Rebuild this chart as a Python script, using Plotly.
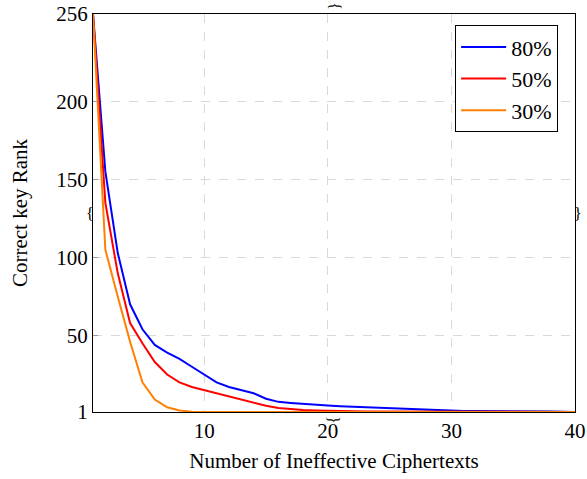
import plotly.graph_objects as go

x_vals = list(range(1, 41))
rank_80 = [256, 155, 103, 70, 54, 44, 39, 35, 30, 25, 20, 17, 15, 13, 9.5, 7.5, 6.8, 6.1, 5.6, 5.1,
           4.7, 4.4, 4.1, 3.8, 3.5, 3.2, 2.9, 2.6, 2.2, 1.8, 1.7, 1.7, 1.7, 1.6, 1.6, 1.5, 1.4, 1.3, 1.1, 1]
rank_50 = [256, 135, 90, 58, 45, 33, 25, 20, 17, 15, 13, 11, 9, 7, 5, 3.5, 2.7, 2.3, 2.0, 1.7,
           1.6, 1.5, 1.4, 1.4, 1.3, 1.3, 1.2, 1.2, 1.1, 1.1, 1.1, 1.1, 1.1, 1.1, 1.1, 1.0, 1.0, 1.0, 1.0, 1]
rank_30 = [256, 105, 75, 46, 20, 9, 4, 2, 1.2, 1, 1, 1, 1, 1, 1, 1, 1, 1, 1, 1,
           1, 1, 1, 1, 1, 1, 1, 1, 1, 1, 1, 1, 1, 1, 1, 1, 1, 1, 1, 1]
series = [("80%", rank_80, "#0000ff"), ("50%", rank_50, "#ff0000"), ("30%", rank_30, "#ff8000")]
x_ticks = [10, 20, 30, 40]
y_ticks = [1, 50, 100, 150, 200, 256]

font = "Liberation Serif"
fig = go.Figure()
for name, vals, col in series:
    fig.add_trace(go.Scatter(x=x_vals, y=vals, mode="lines", name=name,
                             line=dict(color=col, width=2)))

braces = [
    dict(x=0.5, y=1, text="}", textangle=-90, yshift=8),
    dict(x=0.5, y=0, text="}", textangle=90, yshift=-8),
    dict(x=0, y=0.5, text="{", textangle=0, xshift=-3),
    dict(x=1, y=0.5, text="}", textangle=0, xshift=3),
]
for b in braces:
    fig.add_annotation(xref="paper", yref="paper", showarrow=False,
                       xanchor="center", yanchor="middle",
                       font=dict(family=font, size=16, color="black"), **b)

fig.update_layout(
    width=587, height=479,
    margin=dict(l=93, r=12, t=14, b=67),
    paper_bgcolor="white", plot_bgcolor="white",
    font=dict(family=font, size=21, color="black"),
    legend=dict(x=0.965, y=0.972, xanchor="right", yanchor="top",
                bordercolor="black", borderwidth=1, bgcolor="white",
                itemwidth=45,
                font=dict(family=font, size=22), tracegroupgap=0),
    xaxis=dict(range=[1, 40], tickvals=x_ticks, showgrid=True, automargin=False,
               gridcolor="#d9d9d9", griddash="dash", gridwidth=1,
               zeroline=False, showline=True, linecolor="black", linewidth=1.2, mirror=True,
               ticks="", title=dict(text="Number of Ineffective Ciphertexts", font=dict(size=21), standoff=11)),
    yaxis=dict(range=[1, 256], tickvals=y_ticks, showgrid=True, automargin=False,
               gridcolor="#d9d9d9", griddash="dash", gridwidth=1,
               zeroline=False, showline=True, linecolor="black", linewidth=1.2, mirror=True,
               ticks="inside", ticklen=5, tickcolor="#999999",
               title=dict(text="Correct key Rank", font=dict(size=21), standoff=22)),
)
fig.write_html("out.html")
